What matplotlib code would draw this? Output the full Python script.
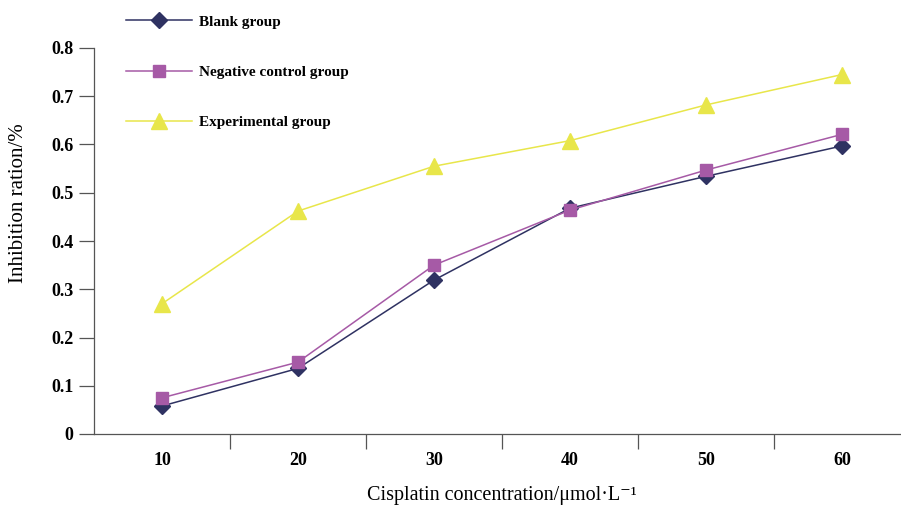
import matplotlib
matplotlib.use("Agg")
import numpy as np
import matplotlib.pyplot as plt

# ---------- data ---------- #
concentrations = ["10", "20", "30", "40", "50", "60"]
blank_group = [0.058, 0.136, 0.319, 0.468, 0.534, 0.597]
negative_group = [0.075, 0.149, 0.350, 0.464, 0.547, 0.621]
experimental_group = [0.270, 0.462, 0.555, 0.608, 0.682, 0.745]

plt.rcParams['font.family'] = ['Liberation Serif', 'DejaVu Serif']

fig = plt.figure(figsize=(9.01, 5.05), dpi=100)
ax = fig.add_axes([94/901, 1 - 434/505, 816/901, (434 - 48)/505])

x = np.arange(len(concentrations))

ax.plot(x, blank_group, color="#2f3262", lw=1.1, marker="D", ms=8.5,
        mec="#2f3262", mfc="#2f3262", label="Blank group")
ax.plot(x, negative_group, color="#a65aa6", lw=1.1, marker="s", ms=9,
        mec="#a65aa6", mfc="#a65aa6", label="Negative control group")
ax.plot(x, experimental_group, color="#e8e64a", lw=1.1, marker="^", ms=11,
        mec="#e8e64a", mfc="#e8e64a", label="Experimental group")

ax.set_xlim(-0.5, len(concentrations) - 0.5)
ax.set_ylim(0, 0.8)

# category labels in the middle, tick marks on the boundaries
ax.set_xticks(x)
ax.set_xticklabels(concentrations, fontsize=13, fontweight="bold")
ax.set_xticks(x[:-1] + 0.5, minor=True)
ax.tick_params(axis="x", which="major", length=0, pad=13)
ax.tick_params(axis="x", which="minor", length=11, width=0.9, color="#555555")

ax.set_yticks(np.arange(0, 0.81, 0.1))
ax.set_yticklabels(["0"] + [f"{v:.1f}" for v in np.arange(0.1, 0.81, 0.1)],
                   fontsize=13, fontweight="bold")
ax.tick_params(axis="y", length=11, width=0.9, color="#555555", pad=4)

for side in ["top", "right"]:
    ax.spines[side].set_visible(False)
for side in ["left", "bottom"]:
    ax.spines[side].set_color("#555555")
    ax.spines[side].set_linewidth(0.9)

ax.set_xlabel("Cisplatin concentration/μmol·L⁻¹", fontsize=14.5)
ax.xaxis.set_label_coords(0.5, -0.136)
ax.set_ylabel("Inhibition ration/%", fontsize=15)
ax.yaxis.set_label_coords(-0.081, 0.598)

fig.legend(loc="upper left", bbox_to_anchor=(126/901, 1 - 15/505),
           frameon=False, borderpad=0, borderaxespad=0,
           handlelength=4.3, handletextpad=0.5, labelspacing=2.4,
           prop={"size": 11, "weight": "bold"})

fig.savefig("out.png", dpi=100)
